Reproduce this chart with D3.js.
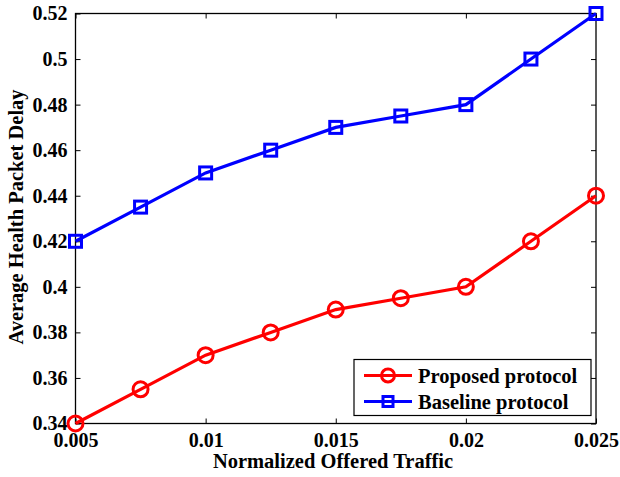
<!DOCTYPE html>
<html>
<head>
<meta charset="utf-8">
<script src="https://cdn.jsdelivr.net/npm/d3@7"></script>
<style>
  body { margin: 0; background: #fff; }
  text { font-family: "Liberation Serif", "Times New Roman", serif; font-weight: bold; }
</style>
</head>
<body>
<svg id="chart" width="620" height="477"></svg>
<script>
const traffic = [0.005, 0.0075, 0.01, 0.0125, 0.015, 0.0175, 0.02, 0.0225, 0.025];
const proposed = [0.34, 0.355, 0.37, 0.38, 0.39, 0.395, 0.40, 0.42, 0.44];
const baseline = [0.42, 0.435, 0.45, 0.46, 0.47, 0.475, 0.48, 0.50, 0.52];
const xTicks = [0.005, 0.01, 0.015, 0.02, 0.025];
const yTicks = [0.34, 0.36, 0.38, 0.4, 0.42, 0.44, 0.46, 0.48, 0.5, 0.52];

const pLeft = 75.5, pRight = 596, pTop = 13.5, pBottom = 423.5;
const svg = d3.select("#chart");

const x = d3.scaleLinear().domain([0.005, 0.025]).range([pLeft, pRight]);
const y = d3.scaleLinear().domain([0.34, 0.52]).range([pBottom, pTop]);

// box
svg.append("rect")
  .attr("x", pLeft).attr("y", pTop)
  .attr("width", pRight - pLeft).attr("height", pBottom - pTop)
  .attr("fill", "none").attr("stroke", "#000").attr("stroke-width", 1.3);

// axes, ticks pointing inward
const fmt = d => String(+d.toFixed(4));
svg.append("g").attr("transform", "translate(0," + pBottom + ")")
  .call(d3.axisBottom(x).tickValues(xTicks).tickSize(-5).tickPadding(9).tickFormat(fmt))
  .call(g => g.select(".domain").remove());
svg.append("g").attr("transform", "translate(0," + pTop + ")")
  .call(d3.axisTop(x).tickValues(xTicks).tickSize(-5).tickFormat(""))
  .call(g => g.select(".domain").remove());
svg.append("g").attr("transform", "translate(" + pLeft + ",0)")
  .call(d3.axisLeft(y).tickValues(yTicks).tickSize(-5).tickPadding(8).tickFormat(fmt))
  .call(g => g.select(".domain").remove());
svg.append("g").attr("transform", "translate(" + pRight + ",0)")
  .call(d3.axisRight(y).tickValues(yTicks).tickSize(-5).tickFormat(""))
  .call(g => g.select(".domain").remove());

svg.selectAll(".tick line").attr("stroke", "#000").attr("stroke-width", 1);
svg.selectAll(".tick text")
  .attr("font-size", 20).attr("fill", "#000")
  .attr("font-family", '"Liberation Serif", serif').attr("font-weight", "bold");

// axis titles
svg.append("text")
  .attr("x", 333).attr("y", 468)
  .attr("text-anchor", "middle").attr("font-size", 20.5)
  .text("Normalized Offered Traffic");
svg.append("text")
  .attr("transform", "translate(23,217) rotate(-90)")
  .attr("text-anchor", "middle").attr("font-size", 20.5)
  .text("Average Health Packet Delay");

const line = d3.line().x((d, i) => x(traffic[i])).y(d => y(d));

// baseline series
svg.append("path").datum(baseline)
  .attr("d", line).attr("fill", "none").attr("stroke", "#0000ff").attr("stroke-width", 3.2);
svg.selectAll(".sq").data(baseline).enter().append("rect")
  .attr("x", (d, i) => x(traffic[i]) - 6).attr("y", d => y(d) - 6)
  .attr("width", 12).attr("height", 12)
  .attr("fill", "none").attr("stroke", "#0000ff").attr("stroke-width", 3);

// proposed series
svg.append("path").datum(proposed)
  .attr("d", line).attr("fill", "none").attr("stroke", "#ff0000").attr("stroke-width", 3.2);
svg.selectAll(".circ").data(proposed).enter().append("circle")
  .attr("cx", (d, i) => x(traffic[i])).attr("cy", d => y(d))
  .attr("r", 7.5)
  .attr("fill", "none").attr("stroke", "#ff0000").attr("stroke-width", 3);

// legend
const lg = svg.append("g").attr("transform", "translate(354,359.5)");
lg.append("rect").attr("width", 237).attr("height", 56)
  .attr("fill", "#fff").attr("stroke", "#000").attr("stroke-width", 1.2);
const items = [
  { name: "Proposed protocol", color: "#ff0000", mark: "circle" },
  { name: "Baseline protocol", color: "#0000ff", mark: "square" }
];
items.forEach((it, i) => {
  const cy = 16 + i * 26;
  lg.append("line").attr("x1", 10).attr("x2", 58).attr("y1", cy).attr("y2", cy)
    .attr("stroke", it.color).attr("stroke-width", 3.2);
  if (it.mark === "circle") {
    lg.append("circle").attr("cx", 34).attr("cy", cy).attr("r", 6.5)
      .attr("fill", "none").attr("stroke", it.color).attr("stroke-width", 3);
  } else {
    lg.append("rect").attr("x", 29).attr("y", cy - 5).attr("width", 10).attr("height", 10)
      .attr("fill", "none").attr("stroke", it.color).attr("stroke-width", 3);
  }
  lg.append("text").attr("x", 64).attr("y", cy + 7)
    .attr("font-size", 20.5).text(it.name);
});
</script>
</body>
</html>
